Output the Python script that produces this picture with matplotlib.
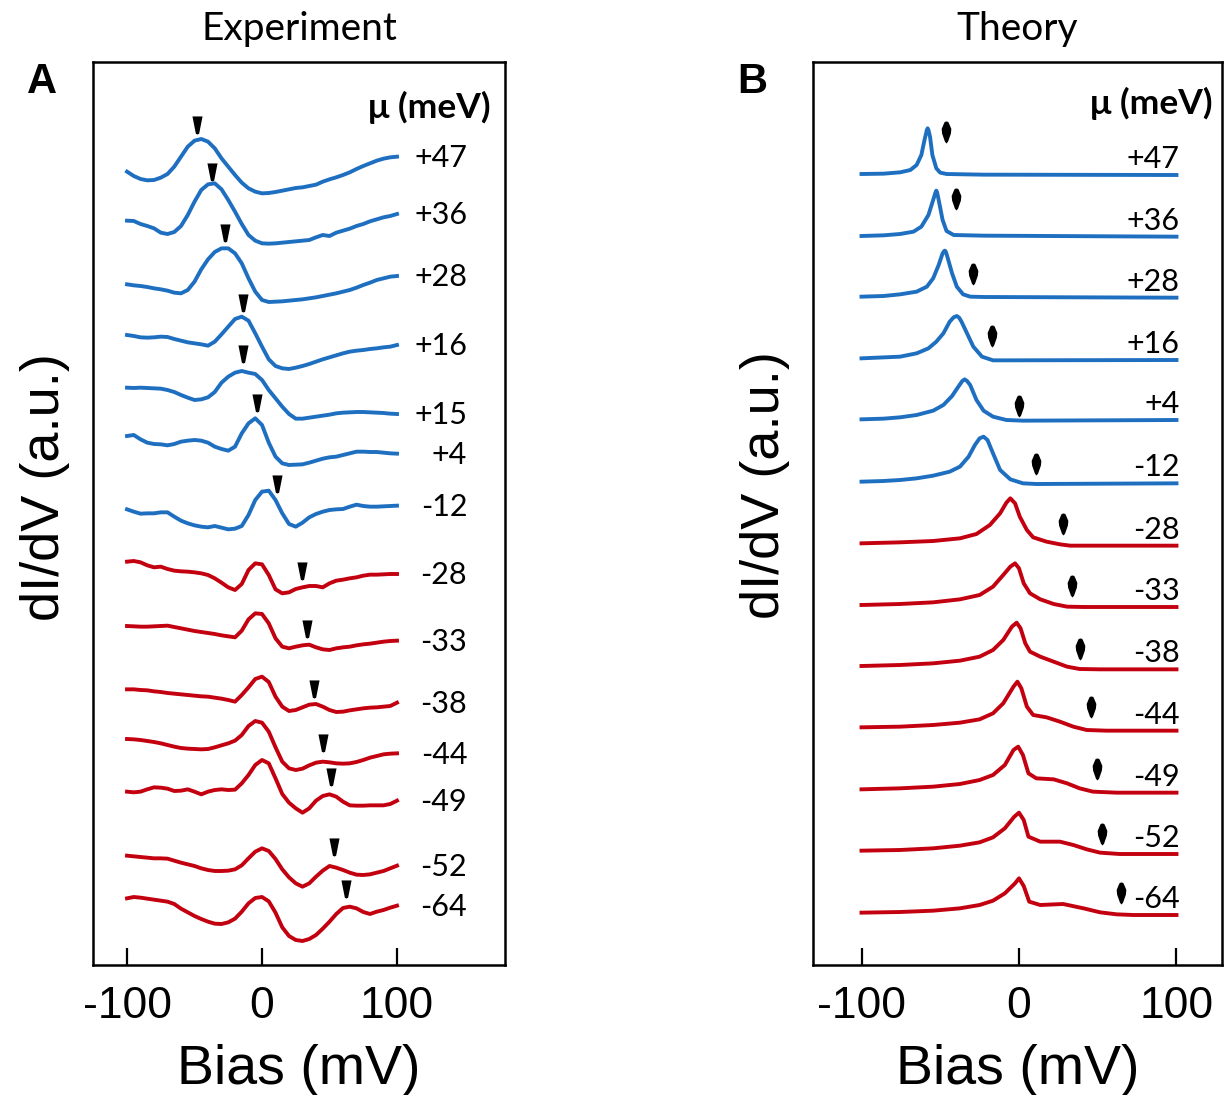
import matplotlib
matplotlib.use("Agg")
import matplotlib.pyplot as plt
from matplotlib.path import Path

plt.rcParams["font.family"] = "Liberation Sans"
plt.rcParams["axes.unicode_minus"] = False

BLUE = "#1F6FC1"
RED = "#C3000F"
LABEL_FONT = "Lato"

# ---------------- Experiment: measured dI/dV spectra ----------------
exp_mu = ["+47", "+36", "+28", "+16", "+15", "+4", "-12",
          "-28", "-33", "-38", "-44", "-49", "-52", "-64"]
exp_bias = list(range(-100, 101, 5))  # mV

exp_p47 = [0, -13, -22, -26, -25, -18, -7, 15, 45, 75, 93, 98, 90, 70, 40, 15, -10, -33, -50, -60, -65,
           -64, -61, -57, -53, -49, -47, -43, -39, -30, -23, -17, -10, -2, 8, 17, 25, 33, 39, 43, 45]
exp_p36 = [0, -1, -10, -16, -23, -36, -40, -34, -16, 17, 57, 92, 109, 112, 94, 62, 27, -10, -43, -60, -68,
           -69, -68, -66, -64, -62, -60, -58, -50, -43, -46, -36, -30, -24, -16, -10, -2, 4, 10, 14, 20]
exp_p28 = [0, -3, -5, -8, -12, -15, -19, -25, -27, -17, 8, 45, 75, 97, 108, 108, 93, 63, 18, -22, -47,
           -53, -52, -51, -49, -47, -45, -42, -39, -35, -31, -27, -22, -17, -10, -2, 5, 13, 18, 23, 25]
exp_p16 = [0, -3, -7, -8, -7, -5, -6, -12, -17, -22, -25, -28, -32, -20, 2, 25, 48, 55, 43, 5, -35,
           -73, -93, -100, -102, -98, -93, -87, -80, -73, -67, -61, -55, -50, -47, -45, -42, -40, -37, -35, -30]
exp_p15 = [0, -1, 0, -1, -2, -3, -7, -13, -22, -30, -37, -35, -29, -13, 15, 33, 45, 50, 45, 41, 23,
           -7, -32, -57, -79, -93, -93, -90, -87, -84, -81, -77, -75, -74, -73, -73, -74, -75, -76, -78, -79]
exp_p4 = [0, 3, -10, -20, -24, -25, -28, -24, -17, -14, -12, -14, -20, -32, -39, -44, -32, 8, 38, 53, 33,
          -20, -62, -82, -87, -86, -85, -80, -74, -68, -64, -62, -57, -52, -47, -47, -48, -48, -50, -52, -53]
exp_m12 = [0, -7, -13, -12, -12, -9, -9, -22, -34, -42, -48, -52, -54, -50, -55, -60, -58, -50, -17, 28, 53,
           56, 28, -12, -44, -52, -40, -24, -14, -7, -2, 0, 1, 8, 14, 10, 8, 8, 9, 10, 11]
exp_m28 = [0, 2, -2, -11, -17, -15, -22, -27, -29, -30, -32, -35, -40, -50, -63, -77, -85, -67, -25, -5, -8,
           -40, -83, -95, -92, -82, -77, -73, -73, -77, -65, -57, -54, -50, -47, -42, -39, -39, -38, -37, -37]
exp_m33 = [0, -1, -2, -2, -1, 0, 1, -3, -7, -11, -15, -18, -21, -24, -28, -31, -34, -14, 20, 38, 36,
           8, -37, -62, -67, -62, -58, -56, -64, -70, -72, -67, -64, -62, -58, -55, -53, -50, -47, -45, -44]
exp_m38 = [0, 0, -2, -3, -6, -8, -11, -13, -15, -17, -19, -21, -22, -25, -28, -32, -37, -17, 6, 31, 38,
           22, -22, -52, -65, -62, -54, -46, -44, -52, -62, -68, -67, -63, -60, -57, -55, -54, -52, -50, -40]
exp_m44 = [0, -1, -3, -6, -9, -13, -18, -23, -27, -29, -30, -31, -30, -25, -19, -13, -5, 12, 39, 54, 49,
           22, -25, -68, -88, -93, -89, -79, -71, -68, -70, -73, -74, -73, -69, -63, -56, -51, -46, -44, -43]
exp_m49 = [0, -2, 0, 7, 13, 12, 9, 2, 3, 7, 0, -8, 0, 5, 7, 5, 6, 25, 50, 80, 95,
           85, 40, -7, -33, -50, -63, -50, -27, -13, -8, -15, -30, -41, -42, -42, -41, -41, -41, -37, -27]
exp_m52 = [0, -2, -4, -6, -8, -8, -9, -15, -21, -26, -31, -38, -43, -46, -46, -45, -41, -29, -8, 12, 22,
           14, -10, -41, -65, -83, -93, -83, -63, -45, -31, -36, -43, -51, -57, -58, -56, -51, -46, -38, -30]
exp_m64 = [0, 4, 2, -1, -4, -7, -10, -17, -31, -42, -53, -62, -70, -76, -77, -72, -61, -40, -15, 1, 4,
           -9, -43, -87, -113, -125, -128, -122, -110, -91, -70, -47, -29, -25, -30, -41, -47, -40, -35, -28, -22]

exp_arrow_bias = [-48, -37, -27.5, -14, -14, -4, 11, 29.5, 33, 38.5, 45, 51, 53, 62.5]

# waterfall stacking and arrow heights (a.u.)
exp_offsets = [2380, 2233, 2042, 1890, 1732, 1587, 1367, 1210, 1017, 827, 678, 520, 328, 200]
exp_arrow_y = [112, 119, 128, 70, 74, 73, 50, -55, -37, -27, -38, 17, -1, 0]

# ---------------- Theory: calculated spectra ----------------
th_mu = ["+47", "+36", "+28", "+16", "+4", "-12",
         "-28", "-33", "-38", "-44", "-49", "-52", "-64"]

th_p47_bias = [-100, -86, -75.5, -69, -65, -62, -60, -58.5, -58, -57.5, -56.5, -55, -52.5, -50, -46, -22.5, 100]
th_p47 = [3, 4, 8, 15, 30, 60, 105, 135, 140, 135, 115, 60, 20, 7, 3, 1, 0]
th_p36_bias = [-100, -86, -75.5, -67, -62, -57.5, -54.5, -53, -52.5, -52, -51, -48.5, -46, -41.5, -22.5, 100]
th_p36 = [2, 4, 8, 15, 30, 65, 110, 133, 138, 133, 110, 50, 17, 5, 3, 0]
th_p28_bias = [-100, -86, -75.5, -65, -58.5, -54.5, -51, -48.5, -47.5, -47, -46.5, -45.5, -42.5, -39.5,
               -35.5, -31, -22.5, 100]
th_p28 = [3, 5, 10, 18, 33, 58, 98, 133, 140, 141, 138, 123, 73, 33, 10, 3, 2, 0]
th_p16_bias = [-100, -75.5, -65, -57.5, -52.5, -48, -44, -41.5, -39.5, -38, -36.5, -33, -29, -23.5, -16.5, -8, 100]
th_p16 = [5, 10, 20, 35, 55, 80, 115, 128, 132, 127, 115, 80, 40, 10, -1, -1, 0]
th_p4_bias = [-100, -86, -75.5, -65, -54.5, -48, -42.5, -38.5, -36, -34.5, -33, -31, -27, -22.5, -16.5, -8, 2.5, 100]
th_p4 = [2, 4, 8, 15, 28, 45, 72, 100, 117, 122, 117, 105, 60, 28, 10, 0, -2, 0]
th_m12_bias = [-100, -86, -75.5, -65, -54.5, -44, -37.5, -32, -28, -25, -22.5, -20, -16.5, -12, -5.5, 2.5, 11, 100]
th_m12 = [5, 7, 10, 15, 23, 35, 50, 80, 115, 135, 140, 130, 90, 40, 12, 0, -2, 0]
th_m28_bias = [-100, -75.5, -54.5, -37.5, -27, -18.5, -12, -8, -5.5, -2.5, 0.5, 5, 9, 17.5, 26, 32.5, 51.5, 100]
th_m28 = [7, 10, 14, 22, 35, 62, 97, 129, 142, 127, 87, 47, 25, 12, 4, 0, 0, 0]
th_m33_bias = [-100, -75.5, -54.5, -37.5, -25, -16.5, -10, -5.5, -2.5, 0, 3, 7, 13.5, 22, 30.5, 41, 100]
th_m33 = [6, 9, 14, 23, 36, 61, 96, 121, 131, 116, 71, 41, 23, 9, 1, 0, 0]
th_m38_bias = [-100, -75.5, -54.5, -37.5, -25, -16.5, -10, -4.5, -1.5, 1, 4, 7, 13.5, 22, 30.5, 38.5, 51.5, 100]
th_m38 = [10, 13, 18, 26, 38, 58, 88, 128, 140, 123, 78, 53, 38, 23, 8, 1, 0, 0]
th_m44_bias = [-100, -75.5, -54.5, -37.5, -25, -16.5, -10, -3.5, -1, 1.5, 5, 9, 17.5, 26, 34.5, 43, 55.5, 100]
th_m44 = [10, 12, 17, 24, 34, 52, 82, 132, 147, 127, 72, 47, 40, 27, 12, 2, 0, 0]
th_m49_bias = [-100, -75.5, -54.5, -37.5, -25, -16.5, -9, -3.5, -0.5, 2.5, 6, 11, 22, 30.5, 38.5, 47, 62, 100]
th_m49 = [10, 13, 18, 26, 38, 53, 83, 128, 138, 113, 58, 43, 40, 28, 13, 3, 0, 0]
th_m52_bias = [-100, -75.5, -54.5, -37.5, -25, -16.5, -9, -3, 0, 3, 6, 13.5, 26, 34.5, 43, 51.5, 64, 100]
th_m52 = [10, 12, 17, 25, 35, 50, 77, 112, 124, 102, 52, 37, 37, 27, 14, 4, 0, 0]
th_m64_bias = [-100, -75.5, -54.5, -37.5, -25, -16.5, -9, -2.5, 0, 3, 6.5, 13.5, 28, 41, 51.5, 62, 72.5, 100]
th_m64 = [7, 9, 13, 20, 30, 43, 65, 95, 110, 87, 40, 30, 33, 20, 8, 2, 0, 0]

th_arrow_bias = [-46.5, -40, -29, -17, 0, 11, 28, 33.5, 38.5, 45.5, 49.5, 53, 64.5]

th_offsets = [2370, 2185, 2002, 1815, 1635, 1445, 1258, 1074, 887, 703, 517, 333, 150]
th_arrow_y = [97, 80, 38, 40, 10, 25, 32, 29, 28, 37, 38, 27, 33]

exp_curves = [exp_p47, exp_p36, exp_p28, exp_p16, exp_p15, exp_p4, exp_m12,
              exp_m28, exp_m33, exp_m38, exp_m44, exp_m49, exp_m52, exp_m64]
th_curves = [(th_p47_bias, th_p47), (th_p36_bias, th_p36), (th_p28_bias, th_p28),
             (th_p16_bias, th_p16), (th_p4_bias, th_p4), (th_m12_bias, th_m12),
             (th_m28_bias, th_m28), (th_m33_bias, th_m33), (th_m38_bias, th_m38),
             (th_m44_bias, th_m44), (th_m49_bias, th_m49), (th_m52_bias, th_m52),
             (th_m64_bias, th_m64)]

# arrow markers, tip at the origin
exp_marker = Path([(-0.28, 1), (0.28, 1), (0.09, 0.04), (0, 0), (-0.09, 0.04), (-0.28, 1)], closed=True)
th_marker = Path([(0, 1), (0.08, 0.98), (0.12, 0.9), (0.22, 0.66), (0.2, 0.45), (0.07, 0.08), (0, 0),
                  (-0.07, 0.08), (-0.2, 0.45), (-0.22, 0.66), (-0.12, 0.9), (-0.08, 0.98), (0, 1)],
                 closed=True)


def style_axes(ax, xlim):
    ax.set_xlim(*xlim)
    ax.set_ylim(0, 2709)
    ax.set_yticks([])
    ax.set_xticks([-100, 0, 100])
    ax.set_xticklabels(["-100", "0", "100"])
    ax.tick_params(axis="x", direction="in", length=12, width=1.6, labelsize=32, pad=15)
    for s in ax.spines.values():
        s.set_linewidth(1.8)
    ax.set_xlabel("Bias (mV)", fontsize=40, labelpad=12)


fig = plt.figure(figsize=(12.25, 10.95), dpi=100)
ax_a = fig.add_axes([93 / 1225, 130 / 1095, 412 / 1225, 903 / 1095])
ax_b = fig.add_axes([813 / 1225, 130 / 1095, 409 / 1225, 903 / 1095])

# ---------------- Panel A ----------------
for i, (vals, off) in enumerate(zip(exp_curves, exp_offsets)):
    color = BLUE if i < 7 else RED
    y = [off + v for v in vals]
    ax_a.plot(exp_bias, y, color=color, lw=2.8, solid_joinstyle="round")
    ax_a.plot(exp_arrow_bias[i], off + exp_arrow_y[i], marker=exp_marker, ms=26,
              color="black", mew=0, linestyle="none")
    ax_a.text(152, y[-1] - 4, exp_mu[i], ha="right", va="center",
              fontsize=22, family=LABEL_FONT)

ax_a.text(0.9636, 0.95, "μ (meV)", transform=ax_a.transAxes, ha="right", va="center",
          fontsize=25.5, family=LABEL_FONT, fontweight="bold")
style_axes(ax_a, (-125.2, 180))
ax_a.set_title("Experiment", fontsize=28, family=LABEL_FONT, pad=16)

# ---------------- Panel B ----------------
for i, ((bias, vals), off) in enumerate(zip(th_curves, th_offsets)):
    color = BLUE if i < 6 else RED
    y = [off + v for v in vals]
    ax_b.plot(bias, y, color=color, lw=2.8, solid_joinstyle="round")
    ax_b.plot(th_arrow_bias[i], off + th_arrow_y[i], marker=th_marker, ms=31.7,
              color="black", mew=0, linestyle="none")
    ax_b.text(102, off + 48, th_mu[i], ha="right", va="center",
              fontsize=22, family=LABEL_FONT)

ax_b.text(0.9756, 0.9546, "μ (meV)", transform=ax_b.transAxes, ha="right", va="center",
          fontsize=25.5, family=LABEL_FONT, fontweight="bold")
style_axes(ax_b, (-130.8, 128.9))
ax_b.set_title("Theory", fontsize=28, family=LABEL_FONT, pad=16)

# y labels and panel letters
fig.text(45 / 1225, 1 - 487 / 1095, "dI/dV (a.u.)", rotation=90, ha="center", va="center", fontsize=39)
fig.text(765 / 1225, 1 - 485 / 1095, "dI/dV (a.u.)", rotation=90, ha="center", va="center", fontsize=39)
fig.text(42 / 1225, 1 - 82 / 1095, "A", ha="center", va="center", fontsize=30, fontweight="bold")
fig.text(752 / 1225, 1 - 82 / 1095, "B", ha="center", va="center", fontsize=30, fontweight="bold")

fig.savefig("out.png", dpi=100)
